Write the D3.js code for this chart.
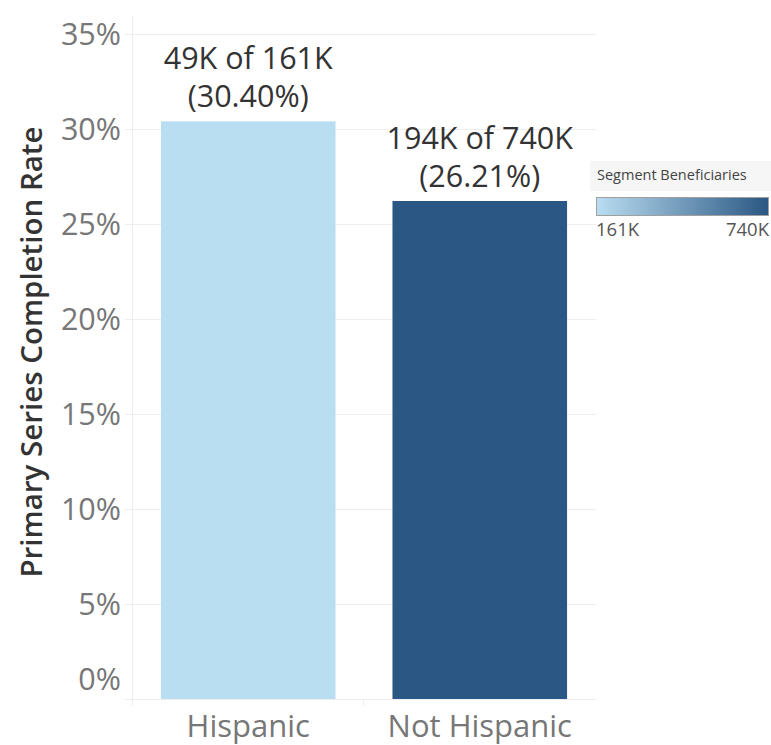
<!DOCTYPE html>
<html>
<head>
<meta charset="utf-8">
<script src="https://cdn.jsdelivr.net/npm/d3@7"></script>
<style>
  html, body { margin: 0; padding: 0; background: #fff; }
  svg { display: block; font-family: "Open Sans", sans-serif; }
</style>
</head>
<body>
<svg id="chart" width="771" height="745"></svg>
<script>
const categories = ["Hispanic", "Not Hispanic"];
const completionRates = [30.40, 26.21];
const completedCounts = ["49K", "194K"];
const beneficiaries = [161, 740];
const beneficiaryLabels = ["161K", "740K"];
const yTicks = [0, 5, 10, 15, 20, 25, 30, 35];
const legendTitle = "Segment Beneficiaries";
const yAxisTitle = "Primary Series Completion Rate";

const svg = d3.select("#chart");

const plot = { left: 132, right: 596, top: 34, bottom: 699 };

const x = d3.scaleBand()
  .domain(categories)
  .range([plot.left, plot.right])
  .paddingInner(0.246)
  .paddingOuter(0.125);

const y = d3.scaleLinear()
  .domain([0, 35])
  .range([plot.bottom, plot.top]);

const color = d3.scaleLinear()
  .domain(d3.extent(beneficiaries))
  .range(["#b9ddf1", "#2a5783"]);

// gridlines
svg.append("g")
  .selectAll("line")
  .data(yTicks)
  .join("line")
  .attr("x1", 125)
  .attr("x2", plot.right)
  .attr("y1", d => Math.round(y(d)) + 0.5)
  .attr("y2", d => Math.round(y(d)) + 0.5)
  .attr("stroke", "#eeeeee")
  .attr("stroke-width", 1);

// vertical axis line
svg.append("line")
  .attr("x1", plot.left + 0.5).attr("x2", plot.left + 0.5)
  .attr("y1", 16).attr("y2", 706)
  .attr("stroke", "#eeeeee");

// category separator tick
svg.append("line")
  .attr("x1", 363.5).attr("x2", 363.5)
  .attr("y1", 700).attr("y2", 706)
  .attr("stroke", "#eeeeee");

// bars
const data = categories.map((c, i) => ({
  cat: c, rate: completionRates[i], done: completedCounts[i],
  total: beneficiaries[i], totalLabel: beneficiaryLabels[i]
}));

svg.append("g")
  .selectAll("rect")
  .data(data)
  .join("rect")
  .attr("x", d => x(d.cat))
  .attr("width", x.bandwidth())
  .attr("y", d => y(d.rate))
  .attr("height", d => y(0) - y(d.rate))
  .attr("fill", d => color(d.total));

// bar labels
const lbl = svg.append("g")
  .selectAll("text")
  .data(data)
  .join("text")
  .attr("text-anchor", "middle")
  .attr("fill", "#333333")
  .attr("font-size", 30.5);
lbl.append("tspan")
  .attr("x", d => x(d.cat) + x.bandwidth() / 2)
  .attr("y", d => y(d.rate) - 52)
  .text(d => `${d.done} of ${d.totalLabel}`);
lbl.append("tspan")
  .attr("x", d => x(d.cat) + x.bandwidth() / 2)
  .attr("y", d => y(d.rate) - 14)
  .text(d => `(${d.rate.toFixed(2)}%)`);

// y tick labels (bottom label lifted above the baseline, as in the original)
svg.append("g")
  .selectAll("text")
  .data(yTicks)
  .join("text")
  .attr("x", 121)
  .attr("y", d => d === 0 ? y(d) - 9 : y(d) + 11)
  .attr("text-anchor", "end")
  .attr("fill", "#777777")
  .attr("font-size", 30.5)
  .text(d => d + "%");

// category labels
svg.append("g")
  .selectAll("text")
  .data(categories)
  .join("text")
  .attr("x", d => x(d) + x.bandwidth() / 2)
  .attr("y", 737)
  .attr("text-anchor", "middle")
  .attr("fill", "#777777")
  .attr("font-size", 31)
  .text(d => d);

// y axis title
svg.append("text")
  .attr("transform", "translate(42,352) rotate(-90)")
  .attr("text-anchor", "middle")
  .attr("fill", "#333333")
  .attr("font-size", 29.5)
  .attr("font-weight", 600)
  .text(yAxisTitle);

// legend
const lg = svg.append("g");
lg.append("rect")
  .attr("x", 590).attr("y", 161).attr("width", 181).attr("height", 30)
  .attr("fill", "#f6f6f6");
lg.append("text")
  .attr("x", 597).attr("y", 180)
  .attr("fill", "#444444")
  .attr("font-size", 14.5)
  .text(legendTitle);

const defs = svg.append("defs");
const grad = defs.append("linearGradient").attr("id", "lgrad");
grad.selectAll("stop")
  .data(beneficiaries)
  .join("stop")
  .attr("offset", (d, i) => i === 0 ? "0%" : "100%")
  .attr("stop-color", d => color(d));

lg.append("rect")
  .attr("x", 596.5).attr("y", 197.5).attr("width", 172).attr("height", 18)
  .attr("fill", "url(#lgrad)")
  .attr("stroke", "#a0a0a0");

lg.selectAll("text.tick")
  .data(beneficiaryLabels)
  .join("text")
  .attr("class", "tick")
  .attr("x", (d, i) => i === 0 ? 596 : 769)
  .attr("y", 236)
  .attr("text-anchor", (d, i) => i === 0 ? "start" : "end")
  .attr("fill", "#555555")
  .attr("font-size", 18.5)
  .text(d => d);
</script>
</body>
</html>
